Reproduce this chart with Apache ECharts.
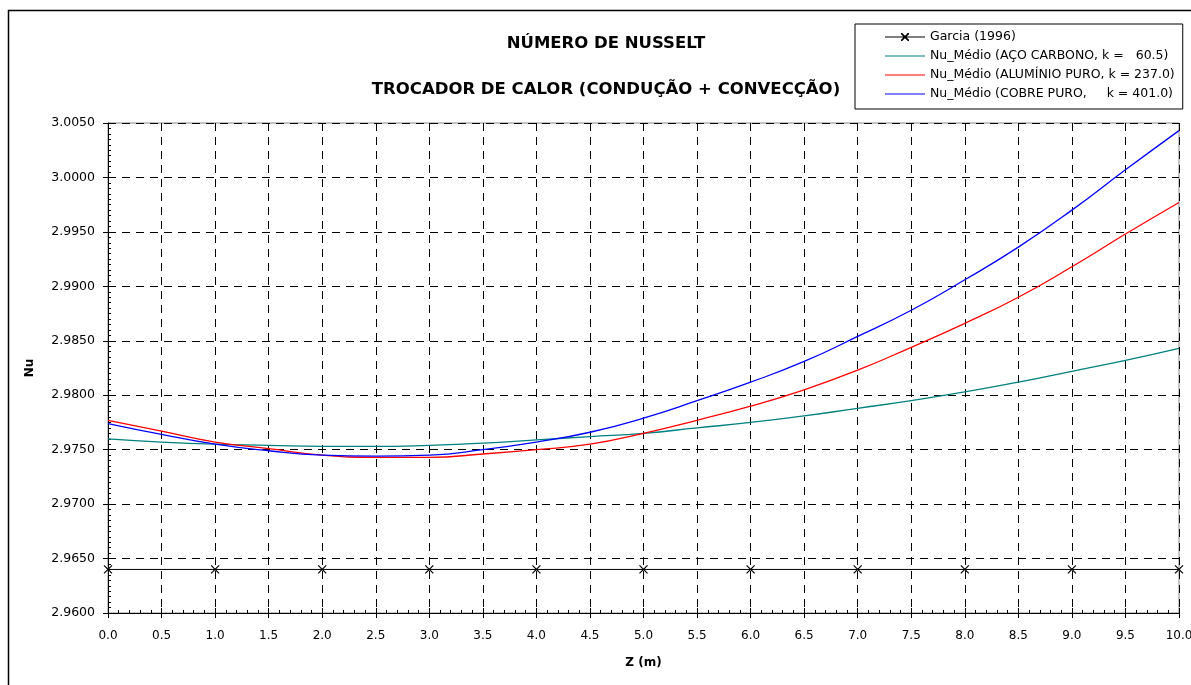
<!DOCTYPE html>
<html>
<head>
<meta charset="utf-8">
<script src="https://cdn.jsdelivr.net/npm/echarts@6/dist/echarts.min.js"></script>
<style>html,body{margin:0;padding:0;background:#fff}#c{width:1191px;height:685px}</style>
</head>
<body>
<div id="c"></div>
<script>
const zValues = [0,0.5,1,1.5,2,2.5,3,3.5,4,4.5,5,5.5,6,6.5,7,7.5,8,8.5,9,9.5,10];
const acoCarbono = [2.9760,2.9757,2.9755,2.9754,2.9753,2.9753,2.9754,2.9756,2.9759,2.9762,2.9765,2.9770,2.9775,2.9781,2.9788,2.9795,2.9803,2.9812,2.9822,2.9832,2.9843];
const aluminioPuro = [2.9777,2.9767,2.9757,2.9751,2.9745,2.9743,2.9743,2.9746,2.9750,2.9755,2.9765,2.9777,2.9790,2.9805,2.9823,2.9844,2.9866,2.9890,2.9918,2.9948,2.9977];
const cobrePuro = [2.9774,2.9764,2.9755,2.9749,2.9745,2.9744,2.9745,2.9750,2.9757,2.9766,2.9779,2.9795,2.9812,2.9831,2.9854,2.9878,2.9906,2.9936,2.9970,3.0007,3.0043];
const garciaZ = [0,1,2,3,4,5,6,7,8,9,10];
const garciaNu = [2.964,2.964,2.964,2.964,2.964,2.964,2.964,2.964,2.964,2.964,2.964];
const seriesNames = ['Garcia (1996)','Nu_Médio (AÇO CARBONO, k =   60.5)','Nu_Médio (ALUMÍNIO PURO, k = 237.0)','Nu_Médio (COBRE PURO,     k = 401.0)'];
const titleLines = ['NÚMERO DE NUSSELT','TROCADOR DE CALOR (CONDUÇÃO + CONVECÇÃO)'];

const pairs = (xs, ys) => xs.map((x, i) => [x, ys[i]]);
const FONT = '"DejaVu Sans", Arial, sans-serif';
const LINE_ICON = 'path://M0,6.4L40,6.4L40,7.6L0,7.6Z';
const X_ICON = 'path://M0,6.4L40,6.4L40,7.6L0,7.6Z M16,3L17.2,3L24,9.8L24,11L22.8,11L16,4.2Z M24,3L24,4.2L17.2,11L16,11L16,9.8L22.8,3Z';
const chart = echarts.init(document.getElementById('c'), null, {renderer: 'canvas'});
const xBase = {type: 'value', min: 0, max: 10, interval: 0.5, gridIndex: 0, position: 'bottom'};
const yBase = {type: 'value', min: 2.96, max: 3.005, interval: 0.005, gridIndex: 0, position: 'left'};
chart.setOption({
  backgroundColor: '#fff',
  animation: false,
  textStyle: {fontFamily: FONT},
  graphic: [
    {type: 'rect', shape: {x: 8.5, y: 10.5, width: 1300, height: 800}, style: {fill: 'none', stroke: '#000', lineWidth: 1.5}, silent: true, z: -10},
    {type: 'text', style: {text: titleLines[0], x: 606, y: 44, textAlign: 'center', textVerticalAlign: 'middle', font: 'bold 16.5px ' + FONT, fill: '#000'}},
    {type: 'text', style: {text: titleLines[1], x: 606, y: 90, textAlign: 'center', textVerticalAlign: 'middle', font: 'bold 16.5px ' + FONT, fill: '#000'}}
  ],
  grid: {left: 108, right: 12, top: 123, bottom: 72, show: true, borderColor: '#888', borderWidth: 1, backgroundColor: 'transparent', containLabel: false, outerBoundsMode: 'none'},
  legend: {
    orient: 'vertical', left: 855, top: 24,
    padding: [6, 8, 8, 30], itemGap: 5, itemWidth: 40, itemHeight: 14,
    backgroundColor: '#fff', borderColor: '#000', borderWidth: 1,
    textStyle: {fontSize: 12.5, color: '#000', fontFamily: FONT, lineHeight: 14},
    data: [
      {name: seriesNames[0], icon: X_ICON, itemStyle: {color: '#000', borderWidth: 0}},
      {name: seriesNames[1], icon: LINE_ICON, itemStyle: {color: '#008080', borderWidth: 0}},
      {name: seriesNames[2], icon: LINE_ICON, itemStyle: {color: '#ff0000', borderWidth: 0}},
      {name: seriesNames[3], icon: LINE_ICON, itemStyle: {color: '#0000ff', borderWidth: 0}}
    ]
  },
  xAxis: [
    Object.assign({}, xBase, {
      name: 'Z (m)', nameLocation: 'middle', nameGap: 44,
      nameTextStyle: {fontWeight: 'bold', fontSize: 12, color: '#000'},
      axisLine: {show: true, onZero: false, lineStyle: {color: '#000', width: 1}},
      axisTick: {show: true, inside: false, length: 5, lineStyle: {color: '#000'}},
      axisLabel: {color: '#000', fontSize: 12, margin: 17, formatter: v => v.toFixed(1)},
      splitLine: {show: true, lineStyle: {color: '#000', type: [8, 6], width: 1}}
    }),
    Object.assign({}, xBase, {
      axisLine: {show: false},
      axisLabel: {show: false},
      splitLine: {show: false},
      axisTick: {show: true, inside: true, length: 5, lineStyle: {color: '#000'}},
      minorTick: {show: true, splitNumber: 5, length: 3, lineStyle: {color: '#000'}}
    })
  ],
  yAxis: [
    Object.assign({}, yBase, {
      name: 'Nu', nameLocation: 'middle', nameGap: 72, nameRotate: 90,
      nameTextStyle: {fontWeight: 'bold', fontSize: 12, color: '#000'},
      axisLine: {show: true, onZero: false, lineStyle: {color: '#000', width: 1}},
      axisTick: {show: true, inside: false, length: 5, lineStyle: {color: '#000'}},
      axisLabel: {color: '#000', fontSize: 12.5, margin: 13, formatter: v => v.toFixed(4)},
      splitLine: {show: true, lineStyle: {color: '#000', type: [8, 6], width: 1}}
    }),
    Object.assign({}, yBase, {
      axisLine: {show: false},
      axisLabel: {show: false},
      splitLine: {show: false},
      axisTick: {show: true, inside: true, length: 5, lineStyle: {color: '#000'}},
      minorTick: {show: true, splitNumber: 10, length: 3, lineStyle: {color: '#000'}}
    })
  ],
  series: [
    {name: seriesNames[0], type: 'line', xAxisIndex: 0, yAxisIndex: 0, data: pairs(garciaZ, garciaNu),
      symbol: 'path://M0,0L10,10M10,0L0,10', symbolSize: 8, showSymbol: true,
      lineStyle: {color: '#000', width: 1}, itemStyle: {color: 'rgba(0,0,0,0)', borderColor: '#000', borderWidth: 1.2}, z: 5},
    {name: seriesNames[1], type: 'line', xAxisIndex: 0, yAxisIndex: 0, data: pairs(zValues, acoCarbono), smooth: true, symbol: 'none',
      lineStyle: {color: '#008080', width: 1.3}, itemStyle: {color: '#008080'}},
    {name: seriesNames[2], type: 'line', xAxisIndex: 0, yAxisIndex: 0, data: pairs(zValues, aluminioPuro), smooth: true, symbol: 'none',
      lineStyle: {color: '#ff0000', width: 1.3}, itemStyle: {color: '#ff0000'}},
    {name: seriesNames[3], type: 'line', xAxisIndex: 0, yAxisIndex: 0, data: pairs(zValues, cobrePuro), smooth: true, symbol: 'none',
      lineStyle: {color: '#0000ff', width: 1.3}, itemStyle: {color: '#0000ff'}}
  ]
});
</script>
</body>
</html>
